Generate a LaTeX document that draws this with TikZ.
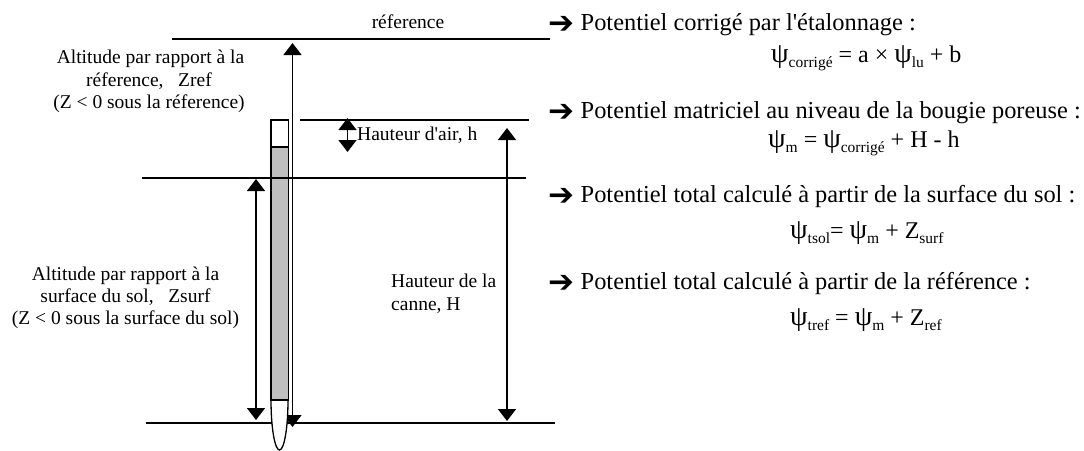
\documentclass[tikz,border=0pt]{standalone}
\usepackage{fontspec}
\newfontfamily\plainrm{Liberation Serif}
\newfontfamily\arrowfont{DejaVu Sans}
\usetikzlibrary{arrows.meta}
\newcommand{\sbs}[1]{\raisebox{-5pt}{\fontsize{15.5}{16}\selectfont #1}}
\newcommand{\psig}{{\fontsize{28}{28}\selectfont ψ}}
\tikzset{
  ln/.style={line width=1.3pt,black},
  dim/.style={line width=1.3pt,black,{Triangle[length=12pt,width=18pt]}-{Triangle[length=12pt,width=18pt]},shorten <=0pt,shorten >=0pt},
  lab/.style={font=\plainrm\fontsize{19.5}{24}\selectfont,align=center,inner sep=0pt,anchor=base},
  head/.style={font=\plainrm\fontsize{24.4}{26}\selectfont,inner sep=0pt,anchor=base west},
  frm/.style={font=\plainrm\fontsize{24}{26}\selectfont,inner sep=0pt,anchor=base west},
  bul/.style={font=\arrowfont\fontsize{31}{31}\selectfont,inner sep=0pt,anchor=base west}
}
\begin{document}
\begin{tikzpicture}[x=1pt,y=-1pt]
\useasboundingbox (0,0) rectangle (1084,450);
% level lines
\coordinate (r1) at (172,39); \coordinate (r2) at (550,39);
\coordinate (a1) at (300,120); \coordinate (a2) at (529,120);
\coordinate (s1) at (142,178); \coordinate (s2) at (526,178);
\coordinate (b1) at (146,423); \coordinate (b2) at (555,423);
\draw[ln] (r1) -- (r2);
\draw[ln] (a1) -- (a2);
\draw[ln] (b1) -- (b2);
% long arrow
\coordinate (z1) at (292.5,43); \coordinate (z2) at (292.5,427);
\draw[dim] (z1) -- (z2);
% tube
\filldraw[ln,fill=white] (279.5,400) ellipse [x radius=8.5,y radius=50];
\draw[ln,fill=white] (271,120) rectangle (288.5,147);
\draw[ln,fill=black!25,line width=1.3pt] (271,147) rectangle (288.5,400);
\draw[black,line width=2.5pt] (271,400) -- (288.5,400);
\draw[ln] (s1) -- (s2);
% other dimension arrows
\coordinate (sa) at (256,179); \coordinate (sb) at (256,420);
\draw[dim] (sa) -- (sb);
\coordinate (ha) at (507,128); \coordinate (hb) at (507,421);
\draw[dim] (ha) -- (hb);
\coordinate (aa) at (347.5,118); \coordinate (ab) at (347.5,152);
\draw[dim] (aa) -- (ab);
% labels
\node[lab] (tref) at (408,28) {réference};
\node[lab] (l1) at (150.5,63) {Altitude par rapport à la};
\node[lab] (l2) at (149,86) {réference,\ \ \ Zref};
\node[lab] (l3) at (149,108) {(Z < 0 sous la réference)};
\node[lab] (l4) at (125.5,280) {Altitude par rapport à la};
\node[lab] (l5) at (125.5,302) {surface du sol,\ \ \ Zsurf};
\node[lab] (l6) at (125.5,324) {(Z < 0 sous la surface du sol)};
\node[lab,anchor=base west] (hair) at (357,140) {Hauteur d'air, h};
\node[lab,anchor=base west] (hc1) at (391,287) {Hauteur de la};
\node[lab,anchor=base west] (hc2) at (391,310) {canne, H};
% right column
\node[bul] (b1t) at (548,33) {➔};
\node[head] (h1) at (580.5,30) {Potentiel corrigé par l'étalonnage :};
\node[frm] (f1) at (771,62) {\psig\sbs{corrigé} = a × \psig\sbs{lu} + b};
\node[bul] (b2t) at (548,121) {➔};
\node[head] (h2) at (580.5,118) {Potentiel matriciel au niveau de la bougie poreuse :};
\node[frm] (f2) at (768,147) {\psig\sbs{m} = \psig\sbs{corrigé} + H - h};
\node[bul] (b3t) at (548,205) {➔};
\node[head] (h3) at (580.5,202) {Potentiel total calculé à partir de la surface du sol :};
\node[frm] (f3) at (790,238) {\psig\sbs{tsol}= \psig\sbs{m} + Z\sbs{surf}};
\node[bul] (b4t) at (548,292) {➔};
\node[head] (h4) at (580.5,289) {Potentiel total calculé à partir de la référence :};
\node[frm] (f4) at (790,325) {\psig\sbs{tref} = \psig\sbs{m} + Z\sbs{ref}};
\end{tikzpicture}
\end{document}
